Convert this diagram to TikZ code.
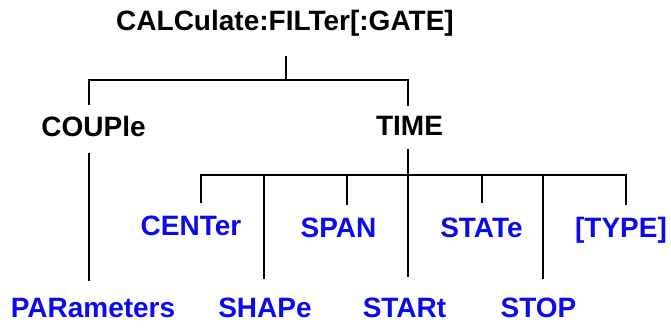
\documentclass[tikz,border=0pt]{standalone}
\usepackage{fontspec}
\setmainfont{Liberation Sans}
\definecolor{cmdblue}{RGB}{10,10,240}
\tikzset{
  cmd/.style={font=\bfseries\fontsize{28}{30}\selectfont,inner sep=0pt,
    text height=21pt,text depth=6pt,anchor=base},
  sub/.style={cmd,text=cmdblue},
  branch/.style={line width=1.4pt,black}
}
\begin{document}
\begin{tikzpicture}[x=1pt,y=1pt]
  \useasboundingbox (0,0) rectangle (671,327);
  % nivel superior
  \node[cmd] (calc) at (285,296) {CALCulate:FILTer[:GATE]};
  \node[cmd] (couple) at (93.5,190) {COUPle};
  \node[cmd] (time) at (409.5,191) {TIME};
  % subordenes
  \node[sub] (center) at (191,92) {CENTer};
  \node[sub] (span) at (338.5,90) {SPAN};
  \node[sub] (state) at (481.5,90) {STATe};
  \node[sub] (type) at (621,90) {[TYPE]};
  \node[sub] (param) at (93,10) {PARameters};
  \node[sub] (shape) at (265,10) {SHAPe};
  \node[sub] (start) at (404.5,10) {STARt};
  \node[sub] (stop) at (538.5,10) {STOP};
  % barras horizontales
  \coordinate (busA) at (0,247);
  \coordinate (busB) at (0,152);
  \draw[branch] ([xshift=1,yshift=-19]calc.south) -- ([xshift=1]calc |- busA);
  \draw[branch] ([xshift=-4.5,yshift=11]couple.north) |- ([xshift=1]calc |- busA)
    -| ([xshift=-1.5,yshift=9]time.north);
  \draw[branch] ([xshift=10,yshift=11]center.north) |- ([xshift=-1.5]time |- busB)
    -| ([xshift=5,yshift=11]type.north);
  % ramas
  \draw[branch] ([xshift=-4.5,yshift=-10]couple.south) -- ([xshift=-4,yshift=15]param.north);
  \draw[branch] ([xshift=-1.5,yshift=-7]time.south) -- ([xshift=3.5,yshift=19]start.north);
  \draw[branch] ([xshift=-1]shape |- busB) -- ([xshift=-1,yshift=17]shape.north);
  \draw[branch] ([xshift=8.5]span |- busB) -- ([xshift=8.5,yshift=11]span.north);
  \draw[branch] ([xshift=0.5]state |- busB) -- ([xshift=0.5,yshift=13]state.north);
  \draw[branch] ([xshift=4.5]stop |- busB) -- ([xshift=4.5,yshift=17]stop.north);
\end{tikzpicture}
\end{document}
